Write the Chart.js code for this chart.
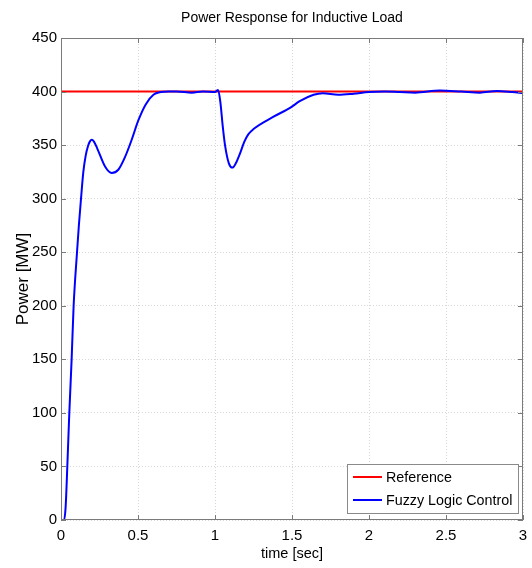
<!DOCTYPE html>
<html lang="en">
<head>
    <meta charset="UTF-8">
    <title>Power Response for Inductive Load</title>
    <script src="https://cdn.jsdelivr.net/npm/chart.js"></script>
    <style>
        html, body { margin: 0; padding: 0; background: #fff; }
        #wrap { width: 532px; height: 568px; }
    </style>
</head>
<body>
    <div id="wrap"><canvas id="myChart" width="532" height="568"></canvas></div>
    <script>
        // values
        const chartTitle = 'Power Response for Inductive Load';
        const seriesNames = ['Reference', 'Fuzzy Logic Control'];
        const refTime = [0, 3];
        const refPower = [400, 400];
        const flcTime = [0, 0.02, 0.03, 0.041, 0.054, 0.069, 0.082, 0.104, 0.116, 0.13, 0.145, 0.16, 0.175, 0.188, 0.2, 0.213, 0.235, 0.286, 0.329, 0.372, 0.416, 0.459, 0.502, 0.55, 0.6, 0.65, 0.7, 0.75, 0.85, 0.92, 1.0, 1.02, 1.035, 1.05, 1.065, 1.09, 1.113, 1.135, 1.162, 1.19, 1.216, 1.25, 1.38, 1.49, 1.55, 1.64, 1.7, 1.8, 1.9, 2.0, 2.1, 2.2, 2.3, 2.46, 2.6, 2.72, 2.83, 2.93, 3.0];
        const flcPower = [0, 0, 12, 50, 100, 150, 200, 250, 275, 300, 325, 340, 349, 353.5, 355, 353.5, 347, 330, 324, 327, 339, 355, 373, 388, 397, 399.5, 400, 400, 399, 400, 399.5, 401.5, 390, 368, 350, 333, 329, 333, 342, 353, 360, 365, 376.5, 385, 391, 397, 398.5, 397, 398, 399.5, 400, 399.5, 399, 401, 400, 399, 400.5, 399.5, 398.5];
        const xTicks = [0, 0.5, 1, 1.5, 2, 2.5, 3];
        const yTicks = [0, 50, 100, 150, 200, 250, 300, 350, 400, 450];

        const font = "'Liberation Sans', Arial, sans-serif";

        function toPoints(xs, ys) {
            return xs.map((x, i) => ({ x: x, y: ys[i] }));
        }

        // title over the plot, box round it, inward ticks, legend inside lower right
        const matlabFrame = {
            id: 'matlabFrame',
            afterDatasetsDraw(chart) {
                const ctx = chart.ctx;
                const a = chart.chartArea;
                const xs = chart.scales.x, ys = chart.scales.y;
                ctx.save();
                ctx.fillStyle = '#000';
                ctx.font = '14px ' + font;
                ctx.textAlign = 'center';
                ctx.textBaseline = 'middle';
                ctx.fillText(chartTitle, (a.left + a.right) / 2, 18);

                ctx.strokeStyle = '#7a7a7a';
                ctx.lineWidth = 1;
                ctx.strokeRect(a.left + 0.5, a.top + 0.5, a.right - a.left - 1, a.bottom - a.top - 1);
                ctx.beginPath();
                xTicks.forEach(v => {
                    const px = Math.round(xs.getPixelForValue(v)) + 0.5;
                    ctx.moveTo(px, a.bottom); ctx.lineTo(px, a.bottom - 5);
                    ctx.moveTo(px, a.top); ctx.lineTo(px, a.top + 5);
                });
                yTicks.forEach(v => {
                    const py = Math.round(ys.getPixelForValue(v)) + 0.5;
                    ctx.moveTo(a.left, py); ctx.lineTo(a.left + 5, py);
                    ctx.moveTo(a.right, py); ctx.lineTo(a.right - 5, py);
                });
                ctx.stroke();

                // legend
                const bx = a.right - 176, by = a.bottom - 56, bw = 171, bh = 49;
                ctx.fillStyle = '#fff';
                ctx.fillRect(bx, by, bw, bh);
                ctx.strokeStyle = '#8a8a8a';
                ctx.strokeRect(bx + 0.5, by + 0.5, bw, bh);
                ctx.font = '14.3px ' + font;
                ctx.textAlign = 'left';
                chart.data.datasets.forEach((ds, i) => {
                    const ly = by + 13 + i * 23;
                    ctx.strokeStyle = ds.borderColor;
                    ctx.lineWidth = 2;
                    ctx.beginPath();
                    ctx.moveTo(bx + 6, ly); ctx.lineTo(bx + 35, ly);
                    ctx.stroke();
                    ctx.fillStyle = '#000';
                    ctx.fillText(ds.label, bx + 39, ly + 1);
                });
                ctx.restore();
            }
        };

        new Chart(document.getElementById('myChart').getContext('2d'), {
            type: 'line',
            data: {
                datasets: [{
                    label: seriesNames[0],
                    data: toPoints(refTime, refPower),
                    borderColor: '#ff0000',
                    borderWidth: 2,
                    pointRadius: 0,
                    order: 1
                }, {
                    label: seriesNames[1],
                    data: toPoints(flcTime, flcPower),
                    borderColor: '#0000ff',
                    borderWidth: 2,
                    pointRadius: 0,
                    cubicInterpolationMode: 'monotone',
                    order: 0
                }]
            },
            options: {
                responsive: false,
                animation: false,
                layout: { padding: { left: 0, right: 9, top: 38, bottom: 0 } },
                plugins: {
                    legend: { display: false },
                    tooltip: { enabled: false },
                    title: { display: false }
                },
                scales: {
                    x: {
                        type: 'linear',
                        min: 0,
                        max: 3,
                        afterBuildTicks: s => { s.ticks = xTicks.map(v => ({ value: v })); },
                        afterFit: s => { s.height = 48; s.paddingLeft = 0; s.paddingRight = 0; },
                        grid: { color: '#d6d6d6', drawTicks: false },
                        border: { display: false, dash: [1, 2] },
                        ticks: {
                            color: '#000',
                            font: { family: font, size: 15 },
                            padding: 7,
                            maxRotation: 0,
                            callback: v => String(v)
                        },
                        title: {
                            display: true,
                            text: 'time [sec]',
                            color: '#000',
                            font: { family: font, size: 14.5 },
                            padding: { top: 0, bottom: 5 }
                        }
                    },
                    y: {
                        min: 0,
                        max: 450,
                        afterBuildTicks: s => { s.ticks = yTicks.map(v => ({ value: v })); },
                        afterFit: s => { s.width = 61; },
                        grid: { color: '#d6d6d6', drawTicks: false },
                        border: { display: false, dash: [1, 2] },
                        ticks: { color: '#000', font: { family: font, size: 15 }, padding: 4 },
                        title: {
                            display: true,
                            text: 'Power [MW]',
                            color: '#000',
                            font: { family: font, size: 17 },
                            padding: { top: 13, bottom: 0 }
                        }
                    }
                }
            },
            plugins: [matlabFrame]
        });
    </script>
</body>
</html>
